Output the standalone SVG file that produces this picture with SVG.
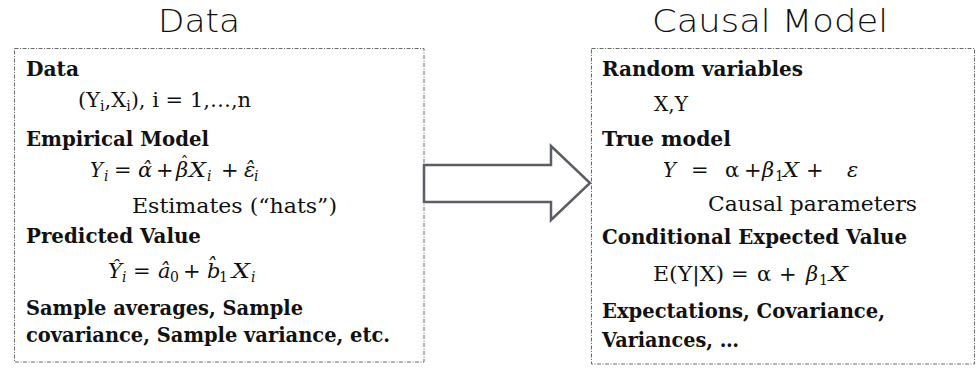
<svg xmlns="http://www.w3.org/2000/svg" width="976" height="368" viewBox="0 0 976 368">
<style>
.title{font-family:"DejaVu Sans","Liberation Sans",sans-serif;font-weight:200;font-size:32px;fill:#111;text-anchor:middle}
.box{fill:#fff;stroke:#6a6a6a;stroke-width:1;stroke-dasharray:4 1.5 1 1.5}
.h{font-family:"DejaVu Serif","Liberation Serif",serif;font-weight:bold;font-size:20px;fill:#111}
.t{font-family:"DejaVu Serif","Liberation Serif",serif;font-size:21px;fill:#111}
.m{font-family:"DejaVu Serif","Liberation Serif",serif;font-style:italic;font-size:21px;fill:#111}
.u{font-family:"DejaVu Serif","Liberation Serif",serif;font-size:21px;fill:#111}
.s{font-size:14px}
.hat{font-style:normal;font-size:16px;text-anchor:middle}
.arrow{fill:#fff;stroke:#5b5e66;stroke-width:2.5;stroke-linejoin:miter}
</style>
<rect width="976" height="368" fill="#fff"/>
<g id="data-title"><text class="title" x="199" y="32" textLength="82" lengthAdjust="spacingAndGlyphs">Data</text></g>
<g id="model-title"><text class="title" x="770" y="32" textLength="236" lengthAdjust="spacingAndGlyphs">Causal Model</text></g>

<g id="data-box">
<rect class="box" x="14.5" y="48.5" width="409.5" height="313.5"/>
<text class="h" x="26" y="76" textLength="53" lengthAdjust="spacingAndGlyphs">Data</text>
<text class="u" x="78" y="107">(Y<tspan class="s" dy="4">i</tspan><tspan dy="-4">,X</tspan><tspan class="s" dy="4">i</tspan><tspan dy="-4">), i = 1,…,n</tspan></text>
<text class="h" x="26" y="146" textLength="183" lengthAdjust="spacingAndGlyphs">Empirical Model</text>
<text class="m" x="90" y="177" textLength="13" lengthAdjust="spacingAndGlyphs">Y</text><text class="m s" x="104" y="181">i</text>
<text class="u" x="114" y="177">=</text>
<text class="m" x="138" y="177">α̂</text>
<text class="u" x="156" y="177">+</text>
<text class="m" x="176" y="177">β<tspan class="hat" x="184.5" dy="-9">ˆ</tspan></text>
<text class="m" x="189" y="177" textLength="17" lengthAdjust="spacingAndGlyphs">X</text><text class="m s" x="207" y="181">i</text>
<text class="u" x="221" y="177">+</text>
<text class="m" x="244" y="177">ε̂</text><text class="m s" x="254" y="181">i</text>
<text class="t" x="132" y="213" textLength="205" lengthAdjust="spacingAndGlyphs">Estimates (“hats”)</text>
<text class="h" x="26" y="243" textLength="175" lengthAdjust="spacingAndGlyphs">Predicted Value</text>
<text class="m" x="108" y="278" textLength="14" lengthAdjust="spacingAndGlyphs">Ŷ</text><text class="m s" x="122" y="282">i</text>
<text class="u" x="133" y="278">=</text>
<text class="m" x="158" y="278">â</text><text class="u s" x="170" y="282">0</text>
<text class="u" x="183" y="278">+</text>
<text class="m" x="207" y="278">b̂</text><text class="u s" x="219" y="282">1</text>
<text class="m" x="232" y="278" textLength="18" lengthAdjust="spacingAndGlyphs">X</text><text class="m s" x="251" y="282">i</text>
<text class="h" x="26" y="315" textLength="277" lengthAdjust="spacingAndGlyphs">Sample averages, Sample</text>
<text class="h" x="26" y="342" textLength="364" lengthAdjust="spacingAndGlyphs">covariance, Sample variance, etc.</text>
</g>

<g id="connectors">
<polygon id="arrow" class="arrow" points="424,165 551,165 551,146 590,183 551,220 551,202 424,202"/>
</g>

<g id="model-box">
<rect class="box" x="591.5" y="48.5" width="383" height="315.5"/>
<text class="h" x="602" y="76" textLength="201" lengthAdjust="spacingAndGlyphs">Random variables</text>
<text class="u" x="654" y="111" textLength="34" lengthAdjust="spacingAndGlyphs">X,Y</text>
<text class="h" x="602" y="146" textLength="129" lengthAdjust="spacingAndGlyphs">True model</text>
<text class="m" x="663" y="177" textLength="13" lengthAdjust="spacingAndGlyphs">Y</text>
<text class="u" x="691" y="177">=</text>
<text class="u" x="725" y="177">α</text>
<text class="u" x="744" y="177">+</text>
<text class="m" x="762" y="177">β</text><text class="u s" x="775" y="181">1</text>
<text class="m" x="783" y="177" textLength="16" lengthAdjust="spacingAndGlyphs">X</text>
<text class="u" x="806" y="177">+</text>
<text class="m" x="847" y="177">ε</text>
<text class="t" x="708" y="211" textLength="209" lengthAdjust="spacingAndGlyphs">Causal parameters</text>
<text class="h" x="602" y="244" textLength="305" lengthAdjust="spacingAndGlyphs">Conditional Expected Value</text>
<text class="u" x="653" y="281" textLength="71" lengthAdjust="spacingAndGlyphs">E(Y|X)</text>
<text class="u" x="731" y="281">=</text>
<text class="u" x="757" y="281">α</text>
<text class="u" x="779" y="281">+</text>
<text class="m" x="806" y="281">β</text><text class="u s" x="819" y="285">1</text>
<text class="m" x="829" y="281" textLength="19" lengthAdjust="spacingAndGlyphs">X</text>
<text class="h" x="602" y="318" textLength="283" lengthAdjust="spacingAndGlyphs">Expectations, Covariance,</text>
<text class="h" x="602" y="347" textLength="137" lengthAdjust="spacingAndGlyphs">Variances, …</text>
</g>
</svg>
